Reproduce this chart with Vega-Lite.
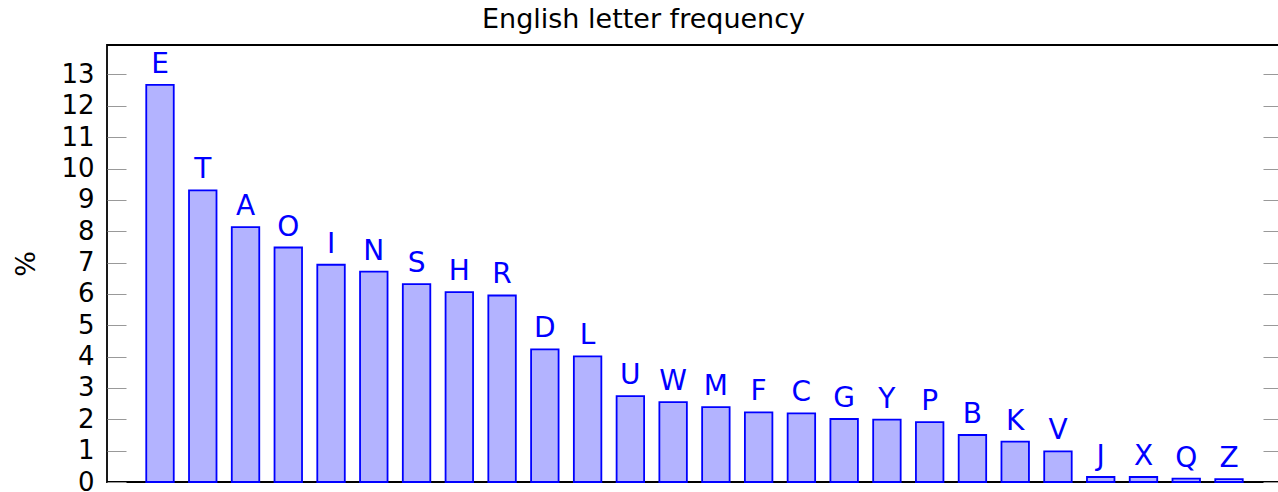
{
  "$schema": "https://vega.github.io/schema/vega-lite/v6.json",
  "autosize": {"type": "none"},
  "width": 1175,
  "height": 437,
  "padding": {"left": 107, "top": 45, "right": 0, "bottom": 10},
  "background": "white",
  "title": {
    "text": "English letter frequency",
    "font": "DejaVu Sans",
    "fontSize": 27,
    "fontWeight": "normal",
    "color": "black",
    "anchor": "middle",
    "dx": -51,
    "baseline": "alphabetic",
    "offset": 15,
    "dy": 25
  },
  "config": {
    "view": {"stroke": "black", "strokeWidth": 1.8},
    "font": "DejaVu Sans"
  },
  "data": {
    "values": [
      {"letter": "E", "freq": 12.67},
      {"letter": "T", "freq": 9.30},
      {"letter": "A", "freq": 8.13},
      {"letter": "O", "freq": 7.48},
      {"letter": "I", "freq": 6.93},
      {"letter": "N", "freq": 6.71},
      {"letter": "S", "freq": 6.31},
      {"letter": "H", "freq": 6.06},
      {"letter": "R", "freq": 5.95},
      {"letter": "D", "freq": 4.23},
      {"letter": "L", "freq": 4.01},
      {"letter": "U", "freq": 2.74},
      {"letter": "W", "freq": 2.55},
      {"letter": "M", "freq": 2.39},
      {"letter": "F", "freq": 2.22},
      {"letter": "C", "freq": 2.19},
      {"letter": "G", "freq": 2.01},
      {"letter": "Y", "freq": 1.99},
      {"letter": "P", "freq": 1.91},
      {"letter": "B", "freq": 1.50},
      {"letter": "K", "freq": 1.29},
      {"letter": "V", "freq": 0.98},
      {"letter": "J", "freq": 0.16},
      {"letter": "X", "freq": 0.16},
      {"letter": "Q", "freq": 0.11},
      {"letter": "Z", "freq": 0.09}
    ]
  },
  "encoding": {
    "x": {
      "field": "letter",
      "type": "nominal",
      "sort": null,
      "scale": {"paddingInner": 0.357, "paddingOuter": 0.918},
      "axis": null
    },
    "y": {
      "field": "freq",
      "type": "quantitative",
      "scale": {"domain": [0, 13.94], "nice": false, "zero": true}
    }
  },
  "layer": [
    {
      "mark": {"type": "bar", "fill": "#b3b3ff", "stroke": "#0000ff", "strokeWidth": 1.8},
      "encoding": {
        "y": {
          "field": "freq",
          "type": "quantitative",
          "scale": {"domain": [0, 13.94], "nice": false, "zero": true},
          "axis": {
            "orient": "left",
            "values": [0,1,2,3,4,5,6,7,8,9,10,11,12,13],
            "offset": -19,
            "domain": false,
            "grid": false,
            "tickSize": 19,
            "tickColor": "#999999",
            "tickWidth": 1,
            "labelPadding": 13,
            "labelFont": "DejaVu Sans",
            "labelFontSize": 26,
            "labelColor": "black",
            "labelFlush": false,
            "labelOverlap": false,
            "title": "%",
            "titleFont": "DejaVu Sans",
            "titleFontSize": 27,
            "titleFontWeight": "normal",
            "titleColor": "black",
            "titlePadding": 20
          }
        }
      }
    },
    {
      "mark": {"type": "text", "color": "#0000ff", "font": "DejaVu Sans", "fontSize": 28, "baseline": "alphabetic", "dy": -12},
      "encoding": {
        "text": {"field": "letter"},
        "y": {
          "field": "freq",
          "type": "quantitative",
          "scale": {"domain": [0, 13.94], "nice": false, "zero": true},
          "axis": {
            "orient": "right",
            "values": [0,1,2,3,4,5,6,7,8,9,10,11,12,13],
            "offset": -19,
            "domain": false,
            "grid": false,
            "tickSize": 19,
            "tickColor": "#999999",
            "tickWidth": 1,
            "labels": false,
            "title": null
          }
        }
      }
    }
  ],
  "resolve": {"scale": {"y": "shared"}}
}
